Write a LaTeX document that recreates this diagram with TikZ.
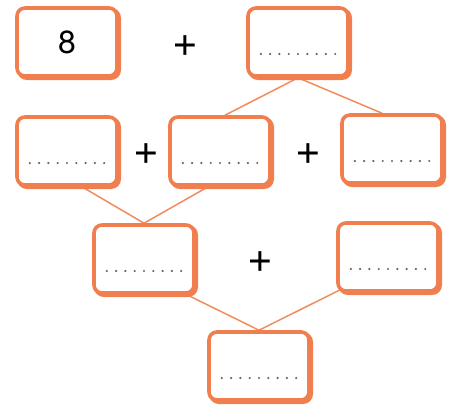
\documentclass[tikz,border=0pt]{standalone}
\usepackage{fontspec}
\setmainfont{TeX Gyre Heros}
\usetikzlibrary{calc,backgrounds}
\definecolor{boxorange}{RGB}{240,126,78}
\definecolor{lineorange}{RGB}{242,140,90}
\definecolor{dotgray}{RGB}{100,100,100}
\tikzset{
  ansbox/.style={draw=boxorange, line width=3.6pt, rounded corners=8pt, fill=white,
    minimum width=100pt, minimum height=68pt, inner sep=0pt,
    preaction={draw=boxorange, line width=4pt, transform canvas={xshift=2pt,yshift=-2pt}}},
  plussign/.style={font=\fontsize{44}{44}\selectfont, inner sep=0pt},
  conn/.style={draw=lineorange, line width=1.5pt},
  dot/.style={fill=dotgray}
}
\begin{document}
\begin{tikzpicture}[x=1pt,y=-1pt]
\useasboundingbox (0,0) rectangle (449,412);
\node[ansbox] (A) at (67,42) {\fontsize{32}{32}\selectfont 8};
\node[ansbox] (B) at (298,42) {};
\node[ansbox] (C) at (67,151) {};
\node[ansbox] (D) at (220,151) {};
\node[ansbox] (E) at (392,149) {};
\node[ansbox] (F) at (144,259) {};
\node[ansbox] (G) at (388,257) {};
\node[ansbox] (H) at (259,366) {};
\node[plussign] (p1) at (185,46) {+};
\node[plussign] (p2) at (146,154) {+};
\node[plussign] (p3) at (308,154) {+};
\node[plussign] (p4) at (260,262) {+};
\begin{scope}[on background layer]
\draw[conn] (B.south) -- ($(D.north)+(5,0)$);
\draw[conn] (B.south) -- ($(E.north)+(-10,0)$);
\draw[conn] ($(C.south)+(15,0)$) -- (F.north);
\draw[conn] ($(D.south)+(-12,0)$) -- (F.north);
\draw[conn] ($(F.south)+(43,0)$) -- (H.north);
\draw[conn] ($(G.south west)+(6,-4)$) -- (H.north);
\end{scope}
\foreach \n in {B,C,D,E,F,G,H}{
  \foreach \i in {-4,...,4}{
    \fill[dot] ($(\n.center)+(\i*9.3,12)$) circle (1.2);
  }
}
\end{tikzpicture}
\end{document}
